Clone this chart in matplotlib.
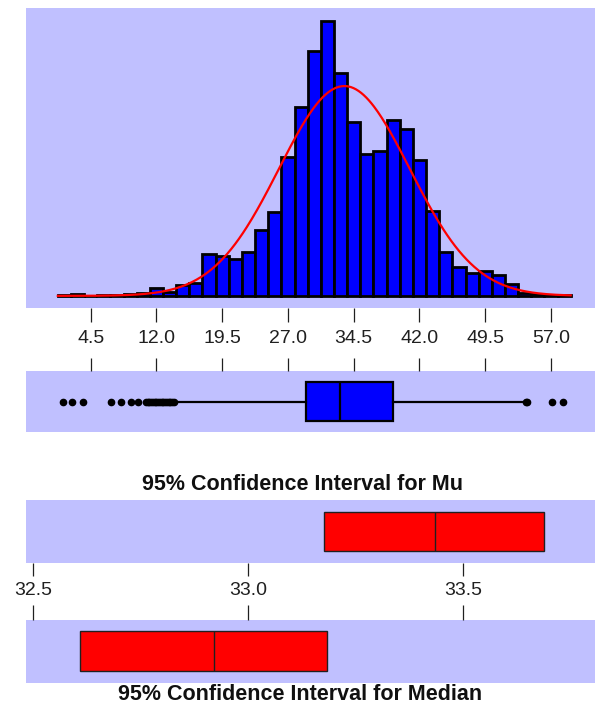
import numpy as np
import matplotlib
matplotlib.use('Agg')
from matplotlib import pyplot as plt

# figure size in pixels
my_dpi = 100
W, H = 595, 706

# colours
lav = '#C0C0FF'
blue = '#0000FF'
red = '#FF0000'

# histogram data (bin midpoints, counts)
bin_width = 1.5
bin_mid = [1.5, 3.0, 4.5, 6.0, 7.5, 9.0, 10.5, 12.0, 13.5, 15.0, 16.5, 18.0, 19.5,
           21.0, 22.5, 24.0, 25.5, 27.0, 28.5, 30.0, 31.5, 33.0, 34.5, 36.0, 37.5,
           39.0, 40.5, 42.0, 43.5, 45.0, 46.5, 48.0, 49.5, 51.0, 52.5, 54.0, 55.5,
           57.0, 58.5]
counts = [1, 2, 0, 1, 1, 2, 3, 10, 5, 13, 16, 51, 48, 45, 53, 80, 101, 167, 228,
          296, 332, 269, 210, 171, 175, 212, 201, 164, 102, 53, 35, 28, 30, 25, 14,
          4, 2, 1, 1]
hist_ticks = [4.5, 12.0, 19.5, 27.0, 34.5, 42.0, 49.5, 57.0]

# fitted normal
mu_hat = 33.43
sigma_hat = 7.45

# boxplot summary
q1, med, q3 = 29.0, 32.97, 38.95
whis_lo, whis_hi = 14.2, 53.9
outliers = [1.3, 2.4, 3.6, 6.8, 7.9, 9.1, 9.95, 10.8, 11.0, 11.2, 11.4, 11.6, 11.8,
            12.0, 12.2, 12.4, 12.6, 12.8, 13.0, 13.2, 13.4, 13.6, 13.8, 14.0,
            54.1, 54.3, 57.1, 58.4]

# confidence intervals (low, centre, high)
ci_mu = [33.175, 33.434, 33.688]
ci_median = [32.609, 32.921, 33.183]
ci_ticks = [32.5, 33.0, 33.5]

plt.rcParams['font.family'] = ['Liberation Sans', 'DejaVu Sans']

fig = plt.figure(figsize=(W/my_dpi, H/my_dpi), dpi=my_dpi)

def add_ax(x, y, w, h):
  # pixel box (top-left origin) -> figure axes
  return fig.add_axes([x/W, 1-(y+h)/H, w/W, h/H])

def clean(ax):
  ax.set_facecolor(lav)
  for s in ax.spines.values():
    s.set_visible(False)
  ax.set_yticks([])

hist_xlim = (-2.88, 62.02)
ci_xlim = (32.483, 33.806)

# ---- histogram ----
ax1 = add_ax(26, 8.3, 569, 300)
clean(ax1)
ax1.bar(bin_mid, counts, width=bin_width, color=blue, edgecolor='black', linewidth=2.0)
xs = np.linspace(bin_mid[0]-bin_width/2, bin_mid[-1]+bin_width/2, 400)
ys = sum(counts)*bin_width*np.exp(-0.5*((xs-mu_hat)/sigma_hat)**2)/(sigma_hat*np.sqrt(2*np.pi))
ax1.plot(xs, ys, color=red, linewidth=1.6)
ax1.set_xlim(hist_xlim)
ax1.set_ylim(-15, 347)
ax1.set_xticks(hist_ticks)
ax1.set_xticklabels(['%.1f' % t for t in hist_ticks])
ax1.tick_params(axis='x', direction='out', length=10.4, width=0.9, color='#202020',
                pad=5, labelsize=14, labelcolor='#202020')

# ---- boxplot ----
ax2 = add_ax(26, 370.7, 569, 61.6)
stats = [dict(med=med, q1=q1, q3=q3, whislo=whis_lo, whishi=whis_hi, fliers=outliers)]
ax2.bxp(stats, positions=[0.5], widths=0.63, vert=False, patch_artist=True, showcaps=False,
        boxprops=dict(facecolor=blue, edgecolor='black', linewidth=1.6),
        medianprops=dict(color='black', linewidth=1.6),
        whiskerprops=dict(color='black', linewidth=1.6),
        flierprops=dict(marker='o', markerfacecolor='black', markeredgecolor='black',
                        markersize=4.5))
clean(ax2)
ax2.set_ylim(0, 1)
ax2.set_xlim(hist_xlim)
ax2.set_xticks(hist_ticks)
ax2.xaxis.tick_top()
ax2.tick_params(axis='x', direction='out', length=9.5, width=0.9, color='#202020',
                labeltop=False, labelbottom=False)

# ---- CI for mu ----
ax3 = add_ax(26, 500, 569, 63.3)
clean(ax3)
ax3.barh([0.5], [ci_mu[2]-ci_mu[0]], left=[ci_mu[0]], height=0.62, color=red,
         edgecolor='#202020', linewidth=1.0)
ax3.vlines([ci_mu[1]], 0.19, 0.81, color='#202020', linewidth=1.0)
ax3.set_ylim(0, 1)
ax3.set_xlim(ci_xlim)
ax3.set_xticks(ci_ticks)
ax3.set_xticklabels(['%.1f' % t for t in ci_ticks])
ax3.tick_params(axis='x', direction='out', length=9.2, width=0.9, color='#202020',
                pad=4, labelsize=14, labelcolor='#202020')

# ---- CI for median ----
ax4 = add_ax(26, 620, 569, 62.7)
clean(ax4)
ax4.barh([0.5], [ci_median[2]-ci_median[0]], left=[ci_median[0]], height=0.64, color=red,
         edgecolor='#202020', linewidth=1.0)
ax4.vlines([ci_median[1]], 0.18, 0.82, color='#202020', linewidth=1.0)
ax4.set_ylim(0, 1)
ax4.set_xlim(ci_xlim)
ax4.set_xticks(ci_ticks)
ax4.xaxis.tick_top()
ax4.tick_params(axis='x', direction='out', length=10.8, width=0.9, color='#202020',
                labeltop=False, labelbottom=False)

# titles
fig.text(302/W, 1-485/H, '95% Confidence Interval for Mu', ha='center', va='center',
         fontsize=15.5, fontweight='bold', color='#101010')
fig.text(300/W, 1-694/H, '95% Confidence Interval for Median', ha='center', va='center',
         fontsize=15.5, fontweight='bold', color='#101010')

plt.savefig('out.png', dpi=my_dpi)
